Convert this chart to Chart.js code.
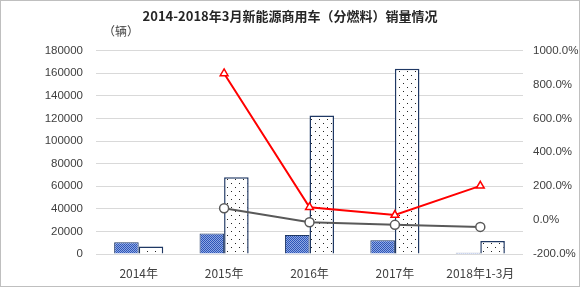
<!DOCTYPE html>
<html>
<head>
<meta charset="utf-8">
<script src="https://cdn.jsdelivr.net/npm/chart.js@4.4.1/dist/chart.umd.min.js"></script>
<style>
  html, body { margin: 0; padding: 0; background: #fff; }
  #wrap { width: 578px; height: 285px; border: 1px solid #bfbfbf; position: relative; }
</style>
</head>
<body>
<div id="wrap"><canvas id="chart" width="578" height="285"></canvas></div>
<script>
// 数据
const categories = ["2014年", "2015年", "2016年", "2017年", "2018年1-3月"];
const salesA = [10400, 18200, 16800, 12200, 1200];     // 蓝色网格柱
const salesB = [6600, 68000, 122500, 164000, 11500];   // 点状柱
const growthB = [null, 865, 76, 30, 202];               // 红线 (%)
const growthA = [null, 70, -13, -28, -40];              // 灰线 (%)

function checkerPattern() {
    let c = document.createElement("canvas");
    c.width = 2; c.height = 2;
    let g = c.getContext("2d");
    g.fillStyle = "#8fa8e2"; g.fillRect(0, 0, 2, 2);
    g.fillStyle = "#2d55b8";
    g.fillRect(0, 0, 1, 1); g.fillRect(1, 1, 1, 1);
    return g.createPattern(c, "repeat");
}

function dotPattern() {
    let c = document.createElement("canvas");
    c.width = 8; c.height = 8;
    let g = c.getContext("2d");
    g.fillStyle = "#ffffff"; g.fillRect(0, 0, 8, 8);
    g.fillStyle = "#222222";
    g.fillRect(2, 2, 1, 1); g.fillRect(6, 6, 1, 1);
    return g.createPattern(c, "repeat");
}

const unitLabel = {
    id: "unitLabel",
    afterDraw(chart) {
        let ctx = chart.ctx;
        ctx.save();
        ctx.font = "12px 'Noto Sans CJK SC'";
        ctx.fillStyle = "#404040";
        ctx.textBaseline = "middle";
        ctx.fillText("（辆）", 102, 30);
        ctx.restore();
    }
};

let ctx = document.getElementById("chart").getContext("2d");
new Chart(ctx, {
    data: {
        labels: categories,
        datasets: [
            {
                type: "line", label: "增速B", data: growthB, yAxisID: "y1",
                borderColor: "#ff0000", borderWidth: 2,
                pointStyle: "triangle", pointRadius: 4.5, pointBorderWidth: 1.5,
                pointBackgroundColor: "#ffffff", pointBorderColor: "#ff0000",
                order: 0
            },
            {
                type: "line", label: "增速A", data: growthA, yAxisID: "y1",
                borderColor: "#595959", borderWidth: 2,
                pointStyle: "circle", pointRadius: 4.5, pointBorderWidth: 1.5,
                pointBackgroundColor: "#ffffff", pointBorderColor: "#595959",
                order: 1
            },
            {
                type: "bar", label: "A", data: salesA, yAxisID: "y",
                backgroundColor: checkerPattern(), borderColor: "#1f3864", borderWidth: 1,
                categoryPercentage: 0.575, barPercentage: 1, order: 2
            },
            {
                type: "bar", label: "B", data: salesB, yAxisID: "y",
                backgroundColor: dotPattern(), borderColor: "#1f3864", borderWidth: 1.5,
                categoryPercentage: 0.575, barPercentage: 1, order: 3
            }
        ]
    },
    options: {
        responsive: false,
        animation: false,
        layout: { padding: { top: 0, left: 0, right: 0, bottom: 0 } },
        plugins: {
            legend: { display: false },
            tooltip: { enabled: false },
            title: {
                display: true,
                text: "2014-2018年3月新能源商用车（分燃料）销量情况",
                font: { size: 13, weight: "bold", family: "'Noto Sans CJK SC'" },
                color: "#262626",
                padding: { top: 7, bottom: 27 }
            }
        },
        scales: {
            x: {
                grid: { display: false },
                border: { display: false },
                ticks: { color: "#404040", font: { size: 12, family: "'Noto Sans CJK SC'" }, padding: 4 },
                afterFit(scale) { scale.height = 32; }
            },
            y: {
                position: "left",
                min: 0, max: 180000,
                ticks: {
                    stepSize: 20000, color: "#404040", font: { size: 11.5, family: "'Liberation Sans'" }, padding: 13,
                    callback: v => String(v)
                },
                grid: { color: "#d9d9d9", drawTicks: false },
                border: { display: false },
                afterFit(scale) { scale.width = 95; }
            },
            y1: {
                position: "right",
                min: -200, max: 1000,
                ticks: {
                    stepSize: 200, color: "#404040", font: { size: 11.5, family: "'Liberation Sans'" }, padding: 10,
                    callback: v => v.toFixed(1) + "%"
                },
                grid: { display: false, drawTicks: false },
                border: { display: false },
                afterFit(scale) { scale.width = 56; }
            }
        }
    },
    plugins: [unitLabel]
});
</script>
</body>
</html>
